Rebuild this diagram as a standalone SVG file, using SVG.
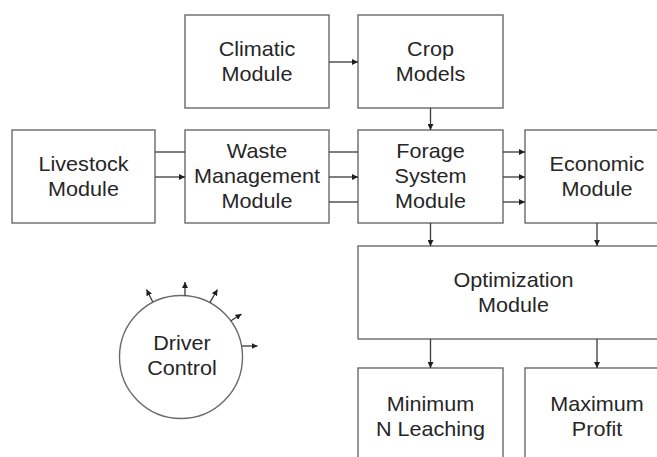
<svg xmlns="http://www.w3.org/2000/svg" width="657" height="457" viewBox="0 0 657 457">
  <style>
    .box { fill: #ffffff; stroke: #6a6a6a; stroke-width: 1.4; }
    .lbl { font-family: "Liberation Sans", Arial, sans-serif; font-size: 20px; fill: #262626; text-anchor: middle; }
    .wire { fill: none; stroke: #3a3a3a; stroke-width: 1.3; }
    .arr { marker-end: url(#head); }
  </style>
  <defs>
    <marker id="head" viewBox="0 0 10 10" refX="10" refY="5" markerWidth="6" markerHeight="6" markerUnits="userSpaceOnUse" orient="auto">
      <path d="M0,0 L10,5 L0,10 z" fill="#1e1e1e"/>
    </marker>
  </defs>
  <rect width="657" height="457" fill="#ffffff"/>

  <g id="climatic">
    <rect class="box" x="185" y="15" width="144" height="93"/>
    <g transform="translate(257,0) scale(1.08,1)">
      <text class="lbl" x="0" y="56">Climatic</text>
      <text class="lbl" x="0" y="81">Module</text>
    </g>
  </g>

  <g id="crop">
    <rect class="box" x="358" y="15" width="145" height="93"/>
    <g transform="translate(430.5,0) scale(1.08,1)">
      <text class="lbl" x="0" y="56">Crop</text>
      <text class="lbl" x="0" y="81">Models</text>
    </g>
  </g>

  <g id="livestock">
    <rect class="box" x="12" y="130" width="143" height="93"/>
    <g transform="translate(83.5,0) scale(1.08,1)">
      <text class="lbl" x="0" y="171">Livestock</text>
      <text class="lbl" x="0" y="196">Module</text>
    </g>
  </g>

  <g id="waste">
    <rect class="box" x="185" y="130" width="144" height="93"/>
    <g transform="translate(257,0) scale(1.08,1)">
      <text class="lbl" x="0" y="158.5">Waste</text>
      <text class="lbl" x="0" y="183.5">Management</text>
      <text class="lbl" x="0" y="208.5">Module</text>
    </g>
  </g>

  <g id="forage">
    <rect class="box" x="358" y="130" width="145" height="93"/>
    <g transform="translate(430.5,0) scale(1.08,1)">
      <text class="lbl" x="0" y="158.5">Forage</text>
      <text class="lbl" x="0" y="183.5">System</text>
      <text class="lbl" x="0" y="208.5">Module</text>
    </g>
  </g>

  <g id="economic">
    <rect class="box" x="525" y="130" width="144" height="93"/>
    <g transform="translate(597,0) scale(1.08,1)">
      <text class="lbl" x="0" y="171">Economic</text>
      <text class="lbl" x="0" y="196">Module</text>
    </g>
  </g>

  <g id="optimization">
    <rect class="box" x="358" y="246" width="311" height="93"/>
    <g transform="translate(513.5,0) scale(1.08,1)">
      <text class="lbl" x="0" y="287">Optimization</text>
      <text class="lbl" x="0" y="312">Module</text>
    </g>
  </g>

  <g id="minimum">
    <rect class="box" x="358" y="368" width="145" height="98"/>
    <g transform="translate(430.5,0) scale(1.08,1)">
      <text class="lbl" x="0" y="411.5">Minimum</text>
      <text class="lbl" x="0" y="436.5">N Leaching</text>
    </g>
  </g>

  <g id="maximum">
    <rect class="box" x="525" y="368" width="144" height="98"/>
    <g transform="translate(597,0) scale(1.08,1)">
      <text class="lbl" x="0" y="411.5">Maximum</text>
      <text class="lbl" x="0" y="436.5">Profit</text>
    </g>
  </g>

  <g id="driver">
    <circle cx="181" cy="357" r="61.5" fill="#ffffff" stroke="#6a6a6a" stroke-width="1.4"/>
    <g transform="translate(182,0) scale(1.08,1)">
      <text class="lbl" x="0" y="350">Driver</text>
      <text class="lbl" x="0" y="375">Control</text>
    </g>
    <g class="wire">
      <line class="arr" x1="152.7" y1="301.7" x2="146.5" y2="289.5"/>
      <line class="arr" x1="185" y1="295.7" x2="185" y2="282"/>
      <line class="arr" x1="210" y1="302.3" x2="217.5" y2="289.5"/>
      <line class="arr" x1="231" y1="320.7" x2="241.5" y2="314"/>
      <line class="arr" x1="242" y1="346" x2="257.5" y2="346"/>
    </g>
  </g>

  <g id="connectors" class="wire">
    <line class="arr" x1="329" y1="62" x2="358" y2="62"/>
    <line class="arr" x1="430.5" y1="108" x2="430.5" y2="130"/>

    <line x1="155" y1="152" x2="185" y2="152"/>
    <line class="arr" x1="155" y1="177" x2="185" y2="177"/>

    <line x1="329" y1="152" x2="358" y2="152"/>
    <line class="arr" x1="329" y1="177" x2="358" y2="177"/>
    <line x1="329" y1="202" x2="358" y2="202"/>

    <line class="arr" x1="503" y1="152" x2="525" y2="152"/>
    <line class="arr" x1="503" y1="177" x2="525" y2="177"/>
    <line class="arr" x1="503" y1="202" x2="525" y2="202"/>

    <line class="arr" x1="430.5" y1="223" x2="430.5" y2="246"/>
    <line class="arr" x1="597" y1="223" x2="597" y2="246"/>
    <line class="arr" x1="430.5" y1="339" x2="430.5" y2="368"/>
    <line class="arr" x1="597" y1="339" x2="597" y2="368"/>
  </g>
</svg>
